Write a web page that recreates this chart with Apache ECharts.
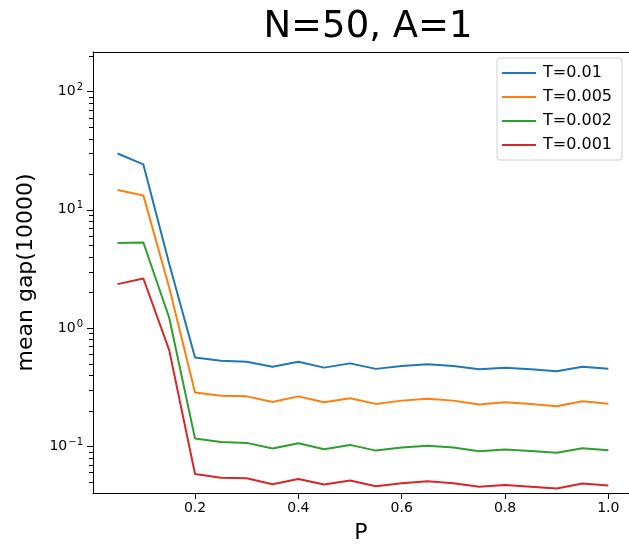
<!DOCTYPE html>
<html>
<head>
<meta charset="utf-8">
<script src="https://cdn.jsdelivr.net/npm/echarts@6/dist/echarts.min.js"></script>
<style>
html,body{margin:0;padding:0;background:#fff;}
#chart{width:629px;height:549px;}
</style>
</head>
<body>
<div id="chart"></div>
<script>
const P = [0.05,0.10,0.15,0.20,0.25,0.30,0.35,0.40,0.45,0.50,0.55,0.60,0.65,0.70,0.75,0.80,0.85,0.90,0.95,1.00];
const T001  = [29.9,24.2,3.5,0.564,0.529,0.519,0.471,0.519,0.462,0.502,0.451,0.477,0.493,0.477,0.447,0.462,0.447,0.430,0.471,0.453];
const T0005 = [14.7,13.2,2.2,0.285,0.267,0.264,0.237,0.264,0.235,0.254,0.228,0.243,0.252,0.243,0.225,0.235,0.227,0.218,0.240,0.229];
const T0002 = [5.23,5.29,1.22,0.116,0.1087,0.1067,0.0955,0.106,0.0944,0.1026,0.0918,0.0973,0.101,0.0973,0.0908,0.094,0.091,0.0879,0.0962,0.0925];
const T0001 = [2.35,2.62,0.65,0.0582,0.054,0.0535,0.0477,0.0529,0.0474,0.0512,0.0458,0.0486,0.0505,0.0486,0.0455,0.047,0.0455,0.0439,0.0483,0.0465];
const seriesNames = ['T=0.01','T=0.005','T=0.002','T=0.001'];
const xTicks = [0.2,0.4,0.6,0.8,1.0];
const yMinorTicks = [0.05,0.06,0.07,0.08,0.09,0.2,0.3,0.4,0.5,0.6,0.7,0.8,0.9,2,3,4,5,6,7,8,9,20,30,40,50,60,70,80,90,200];
const title = 'N=50, A=1';
const xName = 'P';
const yName = 'mean gap(10000)';

const colors = ['#1f77b4','#ff7f0e','#2ca02c','#d62728'];
const allData = [T001,T0005,T0002,T0001];
const FONT = 'DejaVu Sans';
const X_MIN = 0.0025, X_MAX = 1.04, Y_MIN = 0.0402, Y_MAX = 216;

const lineSeries = seriesNames.map((n,i)=>({
  name:n,type:'line',xAxisIndex:0,yAxisIndex:0,
  data:P.map((p,j)=>[p,allData[i][j]]),
  showSymbol:false,symbol:'none',
  lineStyle:{color:colors[i],width:2},
  itemStyle:{color:colors[i]},
  emphasis:{disabled:true}
}));

// minor log ticks on the y axis, positioned through the log axis scale
const minorTickSeries = {
  type:'custom',name:'minorTicks',silent:true,clip:false,z:5,
  xAxisIndex:0,yAxisIndex:0,
  data:yMinorTicks.map(v=>[X_MIN,v]),
  renderItem:function(params,api){
    const p = api.coord([api.value(0),api.value(1)]);
    const y = Math.round(p[1])+0.5;
    return {type:'line',shape:{x1:p[0]-4,y1:y,x2:p[0],y2:y},
      style:{stroke:'#000',lineWidth:1}};
  }
};

const chart = echarts.init(document.getElementById('chart'), null, {renderer:'canvas'});
chart.setOption({
  animation:false,
  backgroundColor:'#fff',
  textStyle:{fontFamily:FONT},
  title:{text:title,left:363,textAlign:'center',top:4,
    textStyle:{fontFamily:FONT,fontSize:37,fontWeight:'normal',color:'#000'}},
  grid:{left:93,top:52,right:0,bottom:52},
  legend:{
    orient:'vertical',left:497,top:58,
    data:seriesNames,icon:'rect',itemWidth:34,itemHeight:2,itemGap:8,
    padding:[7,10,7,5],
    backgroundColor:'#fff',borderColor:'#d0d0d0',borderWidth:1,borderRadius:3,
    textStyle:{fontFamily:FONT,fontSize:16,color:'#000',padding:[0,0,0,2]}
  },
  xAxis:[{
    type:'value',min:X_MIN,max:X_MAX,
    name:xName,nameLocation:'middle',nameGap:29,
    nameTextStyle:{fontFamily:FONT,fontSize:22,color:'#000'},
    axisLine:{show:true,onZero:false,lineStyle:{color:'#000',width:1}},
    axisTick:{show:true,length:6,inside:false,customValues:xTicks,lineStyle:{color:'#000'}},
    axisLabel:{customValues:xTicks,fontFamily:FONT,fontSize:14,color:'#000',margin:8,
      formatter:v=>v.toFixed(1)},
    splitLine:{show:false}
  },{
    type:'value',min:X_MIN,max:X_MAX,position:'top',
    axisLine:{show:true,onZero:false,lineStyle:{color:'#000',width:1}},
    axisTick:{show:false},axisLabel:{show:false},splitLine:{show:false}
  }],
  yAxis:{
    type:'log',logBase:10,min:Y_MIN,max:Y_MAX,
    name:yName,nameLocation:'middle',nameGap:56,
    nameTextStyle:{fontFamily:FONT,fontSize:22,color:'#000'},
    axisLine:{show:true,onZero:false,lineStyle:{color:'#000',width:1}},
    axisTick:{show:true,length:6,lineStyle:{color:'#000'}},
    axisLabel:{fontFamily:FONT,fontSize:14,color:'#000',margin:10,
      showMinLabel:false,showMaxLabel:false,
      formatter:function(v){
        const e = Math.round(Math.log10(v));
        return '{b|10}{s|' + String(e).replace('-','\u2212') + '}';
      },
      rich:{b:{fontFamily:FONT,fontSize:14,color:'#000'},
            s:{fontFamily:FONT,fontSize:10,color:'#000',verticalAlign:'top',padding:[0,0,8,1]}}
    },
    splitLine:{show:false}
  },
  series:lineSeries.concat([minorTickSeries])
});
</script>
</body>
</html>
